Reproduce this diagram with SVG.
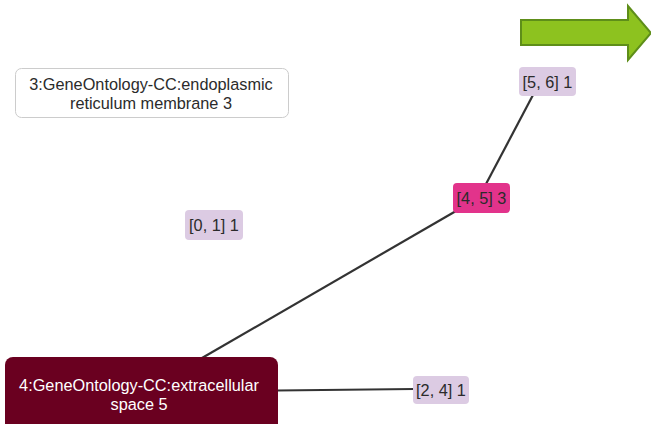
<svg xmlns="http://www.w3.org/2000/svg" width="651" height="424" viewBox="0 0 651 424">
  <style>
    text { font-family: "Liberation Sans", Arial, sans-serif; font-size: 16.3px; text-anchor: middle; }
    .edge { stroke: #333333; stroke-width: 2.2; fill: none; }
    .small { fill: #dccbe3; }
    .dark { fill: #2b2b2b; }
    .light { fill: #ffffff; }
  </style>
  <rect width="651" height="424" fill="#ffffff"/>

  <!-- connectors -->
  <g id="edges">
    <line class="edge" x1="533" y1="95" x2="486" y2="184"/>
    <line class="edge" x1="456" y1="211" x2="202" y2="358"/>
    <line class="edge" x1="277" y1="390.5" x2="414" y2="389"/>
  </g>

  <!-- direction arrow -->
  <g id="arrow">
    <polygon points="521,20 628,20 628,6 651,33 628,60 628,45 521,45" fill="#8dc21f" stroke="#5e8e19" stroke-width="2"/>
  </g>

  <g id="node-go3">
    <rect x="15.5" y="68.5" width="273" height="49" rx="6" fill="#ffffff" stroke="#cccccc" stroke-width="1"/>
    <text class="dark" x="151" y="89.5">3:GeneOntology-CC:endoplasmic</text>
    <text class="dark" x="151" y="108.5">reticulum membrane 3</text>
  </g>

  <g id="node-56">
    <rect class="small" x="519" y="67" width="57" height="29" rx="4"/>
    <text class="dark" x="547.5" y="87.5">[5, 6] 1</text>
  </g>

  <g id="node-01">
    <rect class="small" x="185" y="210" width="58" height="30" rx="4"/>
    <text class="dark" x="214" y="231">[0, 1] 1</text>
  </g>

  <g id="node-45">
    <rect x="453" y="183" width="57" height="30" rx="4" fill="#e2338b"/>
    <text class="dark" x="481.5" y="204">[4, 5] 3</text>
  </g>

  <g id="node-24">
    <rect class="small" x="413" y="376" width="56" height="28" rx="4"/>
    <text class="dark" x="441" y="396">[2, 4] 1</text>
  </g>

  <g id="node-go4">
    <rect x="5" y="357" width="273" height="76" rx="8" fill="#6a0020"/>
    <text class="light" x="139" y="391">4:GeneOntology-CC:extracellular</text>
    <text class="light" x="139" y="410">space 5</text>
  </g>
</svg>
